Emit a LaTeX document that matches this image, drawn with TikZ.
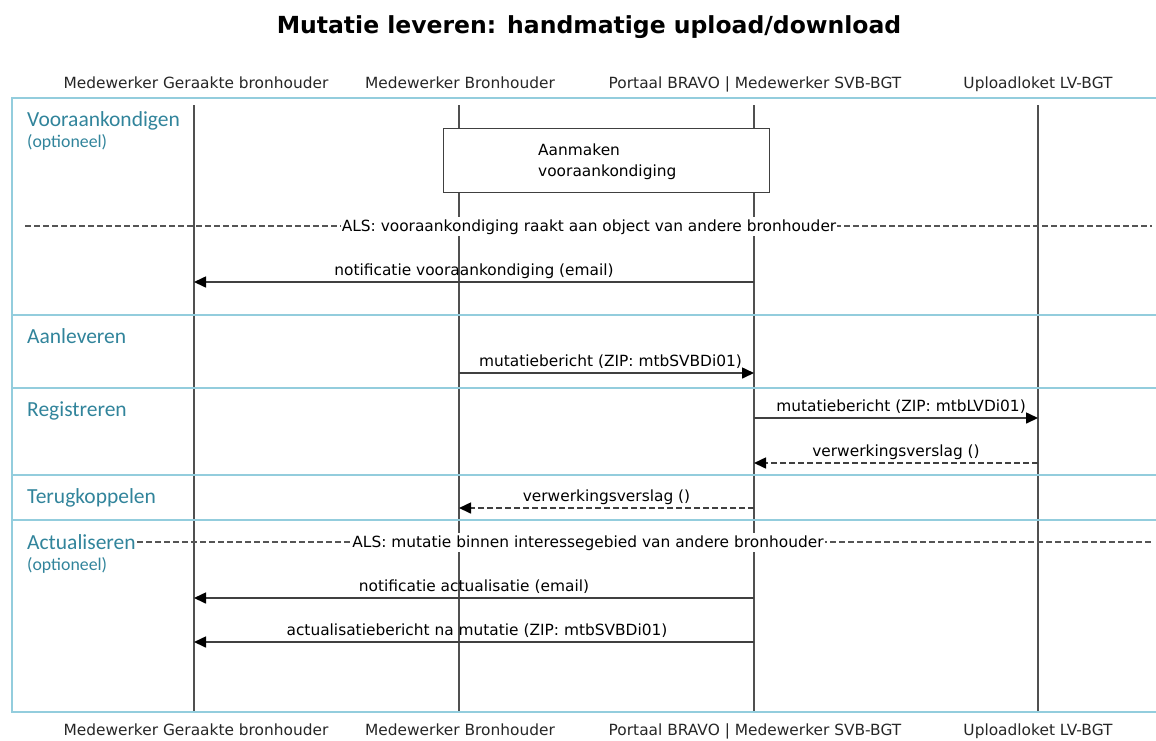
\documentclass[tikz,border=0pt]{standalone}
\usepackage{fontspec}
\setmainfont{DejaVu Sans}
\newfontfamily\secfont{Carlito}
\usetikzlibrary{arrows.meta}
\definecolor{frameblue}{HTML}{93CDDD}
\definecolor{secteal}{HTML}{31849B}
\definecolor{lifegray}{HTML}{505050}
\definecolor{msggray}{HTML}{404040}
\definecolor{dashgray}{HTML}{555555}
\begin{document}
\begin{tikzpicture}[x=1pt,y=-1pt,
  lbl/.style={font=\fontsize{15.4}{18}\selectfont, text=black!85, anchor=base, inner sep=0pt},
  sec/.style={font=\secfont\fontsize{21.5}{24}\selectfont, text=secteal, anchor=base west, inner sep=0pt},
  secsub/.style={font=\secfont\fontsize{17.8}{20}\selectfont, text=secteal, anchor=base west, inner sep=0pt},
  frameline/.style={draw=frameblue, line width=2pt},
  lifeline/.style={draw=lifegray, line width=1.6pt},
  msg/.style={draw=msggray, line width=1.6pt, -{Triangle[length=12pt,width=11pt,fill=black,color=black]}},
  reply/.style={msg, dash pattern=on 6pt off 3pt},
  msglbl/.style={font=\fontsize{15.4}{18}\selectfont, anchor=base, inner sep=0pt, yshift=7pt},
  altline/.style={draw=dashgray, line width=1.2pt, dash pattern=on 6pt off 3pt},
  alttext/.style={font=\fontsize{15.4}{18}\selectfont, fill=white, inner xsep=1pt, inner ysep=2pt, anchor=base},
  actbox/.style={draw=msggray, line width=1.2pt, fill=white}
]
\useasboundingbox (0,0) rectangle (1156,740);
\clip (0,0) rectangle (1156,740);

% title
\node[font=\bfseries\fontsize{23.5}{28}\selectfont, anchor=base, inner sep=0pt] (title) at (589,33) {Mutatie leveren: handmatige upload/download};

% lifeline x positions
\coordinate (L1) at (194,0);
\coordinate (L2) at (459,0);
\coordinate (L3) at (754,0);
\coordinate (L4) at (1038,0);

% participant labels
\node[lbl] (p1t) at (196,88) {Medewerker Geraakte bronhouder};
\node[lbl] (p2t) at (460,88) {Medewerker Bronhouder};
\node[lbl] (p3t) at (755,88) {Portaal BRAVO | Medewerker SVB-BGT};
\node[lbl] (p4t) at (1038,88) {Uploadloket LV-BGT};
\node[lbl] (p1b) at (196,735.5) {Medewerker Geraakte bronhouder};
\node[lbl] (p2b) at (460,735.5) {Medewerker Bronhouder};
\node[lbl] (p3b) at (755,735.5) {Portaal BRAVO | Medewerker SVB-BGT};
\node[lbl] (p4b) at (1038,735.5) {Uploadloket LV-BGT};

% row coordinates
\coordinate (ytop) at (0,105);
\coordinate (ybot) at (0,712);

% lifelines
\foreach \L in {L1,L2,L3,L4}{
  \draw[lifeline] (\L |- ytop) -- (\L |- ybot);
}

% frame and section separators
\draw[frameline] (12,98) rectangle (1170,712);
\foreach \yy in {315,388,475,520}{
  \draw[frameline] (12,\yy) -- (1170,\yy);
}

% section labels
\node[sec] (s1) at (27,126) {Vooraankondigen};
\node[secsub] (s1b) at (27,147) {(optioneel)};
\node[sec] (s2) at (27,343) {Aanleveren};
\node[sec] (s3) at (27,416) {Registreren};
\node[sec] (s4) at (27,503) {Terugkoppelen};
\node[sec] (s5) at (27,549) {Actualiseren};
\node[secsub] (s5b) at (27,570) {(optioneel)};

% activity box
\node[actbox, minimum width=326pt, minimum height=64pt, anchor=north west, inner sep=0pt] (act) at (443,128) {};
\node[font=\fontsize{15.4}{21}\selectfont, align=left, anchor=north west, inner sep=0pt] (acttext) at (538,144) {Aanmaken\\vooraankondiging};

% ALS 1
\coordinate (a1l) at (25,226);
\coordinate (a1r) at (1152,226);
\draw[altline] (a1l) -- (a1r);
\node[alttext] (als1) at (589,231) {ALS: vooraankondiging raakt aan object van andere bronhouder};

% messages
\coordinate (r1) at (0,282);
\draw[msg] (L3 |- r1) -- node[msglbl] {notificatie vooraankondiging (email)} (L1 |- r1);

\coordinate (r2) at (0,373);
\draw[msg] (L2 |- r2) -- node[msglbl, xshift=4pt] {mutatiebericht (ZIP: mtbSVBDi01)} (L3 |- r2);

\coordinate (r3) at (0,418);
\draw[msg] (L3 |- r3) -- node[msglbl, xshift=5pt] {mutatiebericht (ZIP: mtbLVDi01)} (L4 |- r3);

\coordinate (r4) at (0,463);
\draw[reply] (L4 |- r4) -- node[msglbl] {verwerkingsverslag ()} (L3 |- r4);

\coordinate (r5) at (0,508);
\draw[reply] (L3 |- r5) -- node[msglbl] {verwerkingsverslag ()} (L2 |- r5);

% ALS 2
\coordinate (a2l) at (137,542);
\coordinate (a2r) at (1152,542);
\draw[altline] (a2l) -- (a2r);
\node[alttext] (als2) at (588,547) {ALS: mutatie binnen interessegebied van andere bronhouder};

\coordinate (r6) at (0,598);
\draw[msg] (L3 |- r6) -- node[msglbl] {notificatie actualisatie (email)} (L1 |- r6);

\coordinate (r7) at (0,642);
\draw[msg] (L3 |- r7) -- node[msglbl, xshift=3pt] {actualisatiebericht na mutatie (ZIP: mtbSVBDi01)} (L1 |- r7);
\end{tikzpicture}
\end{document}
